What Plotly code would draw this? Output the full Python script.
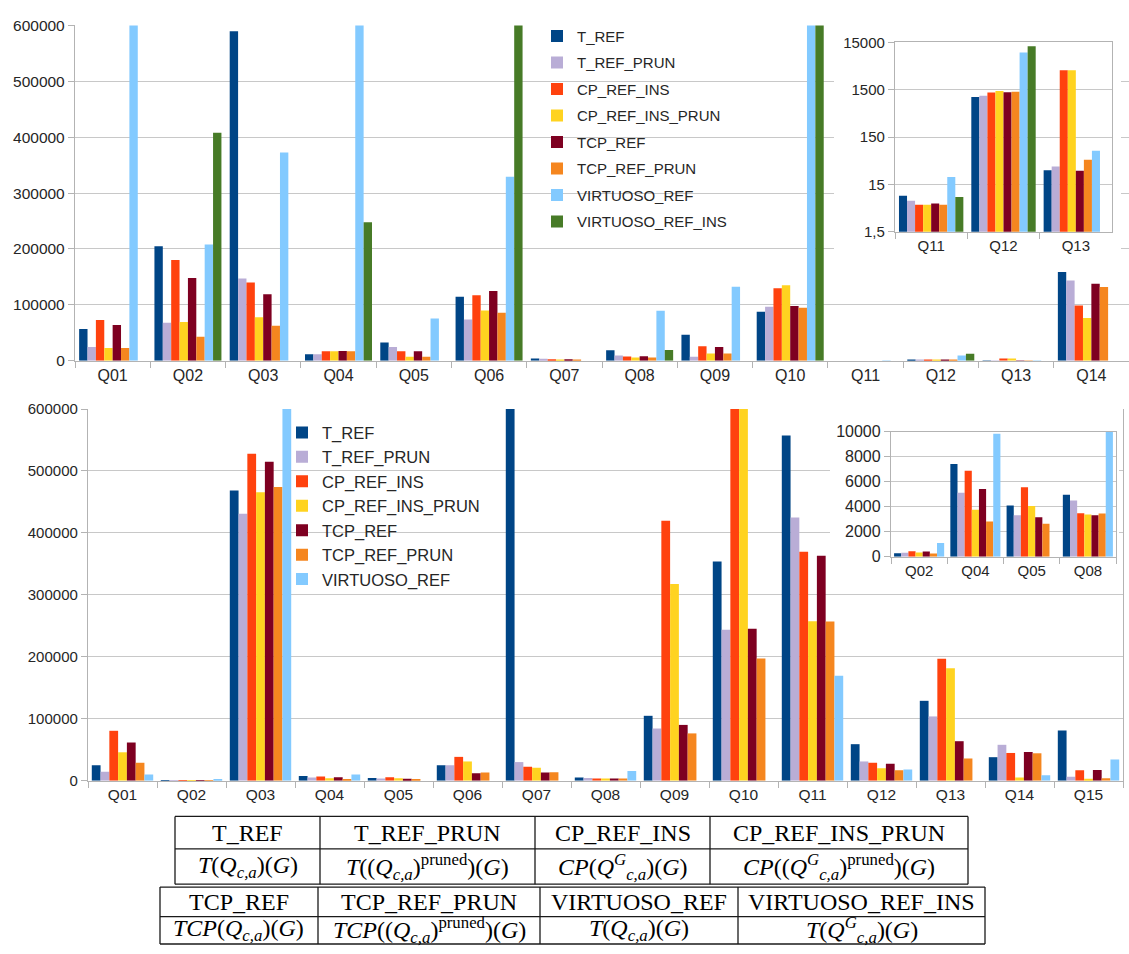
import math
import plotly.graph_objects as go

W, H = 1129, 954

# ---------------- data ----------------
series_names = ["T_REF", "T_REF_PRUN", "CP_REF_INS", "CP_REF_INS_PRUN",
                "TCP_REF", "TCP_REF_PRUN", "VIRTUOSO_REF", "VIRTUOSO_REF_INS"]

top_categories = ["Q01", "Q02", "Q03", "Q04", "Q05", "Q06", "Q07",
                  "Q08", "Q09", "Q10", "Q11", "Q12", "Q13", "Q14"]
top_inset_categories = ["Q11", "Q12", "Q13"]

top_t_ref = [57000, 205000, 589500, 11700, 32700, 114500, 4000, 18700, 46700, 87600, 8.6, 1050, 30, 159000]
top_t_ref_prun = [24500, 68000, 147000, 11700, 24500, 74000, 3500, 9300, 7000, 96400, 6.8, 1120, 36, 143700]
top_cp_ref_ins = [73000, 180500, 140000, 17000, 17000, 117400, 2500, 7600, 25700, 129700, 5.6, 1310, 3870, 98700]
top_cp_ref_ins_prun = [22800, 69500, 78000, 17000, 7000, 90000, 2000, 5800, 12800, 135000, 5.6, 1400, 3870, 76500]
top_tcp_ref = [64000, 148000, 119000, 17500, 17000, 125000, 2500, 8200, 24500, 98100, 5.9, 1330, 29, 137900]
top_tcp_ref_prun = [22800, 43000, 62500, 17000, 7000, 86000, 2000, 5800, 12800, 94600, 5.6, 1355, 50, 132000]
top_virtuoso_ref = [700000, 208000, 372700, 700000, 75400, 329400, None, 89500, 132600, 700000, 21.4, 9150, 77, None]
top_virtuoso_ref_ins = [None, 408000, None, 247700, None, 700000, None, 19300, None, 700000, 8.1, 12400, None, None]

top_tick_vals = [0, 100000, 200000, 300000, 400000, 500000, 600000]
top_inset_tick_vals = [1.5, 15, 150, 1500, 15000]
top_inset_tick_text = ["1,5", "15", "150", "1500", "15000"]

bottom_categories = ["Q01", "Q02", "Q03", "Q04", "Q05", "Q06", "Q07", "Q08",
                     "Q09", "Q10", "Q11", "Q12", "Q13", "Q14", "Q15"]
bottom_inset_categories = ["Q02", "Q04", "Q05", "Q08"]

bot_t_ref = [24700, 290, 468400, 7430, 4100, 24700, 700000, 4970, 104700, 353700, 557400, 58900, 128900, 37900, 81000]
bot_t_ref_prun = [14200, 320, 431000, 5130, 3330, 24700, 30000, 4500, 84200, 243700, 424700, 31000, 103700, 57900, 6300]
bot_cp_ref_ins = [80500, 450, 527900, 6880, 5560, 38400, 22600, 3490, 419500, 700000, 369500, 28900, 196800, 44700, 16800]
bot_cp_ref_ins_prun = [45800, 340, 465800, 3760, 4070, 31000, 21000, 3390, 317400, 700000, 257400, 20000, 181600, 5300, 3200]
bot_tcp_ref = [61600, 420, 514700, 5420, 3170, 12100, 13200, 3330, 90000, 245300, 363200, 27400, 63700, 46300, 17400]
bot_tcp_ref_prun = [28900, 260, 474200, 2830, 2650, 13200, 13700, 3470, 76300, 197400, 256800, 16800, 35800, 44200, 3700]
bot_virtuoso_ref = [10000, 1110, 700000, 9850, None, None, None, 15800, None, None, 169500, 17900, None, 8900, 34200]

bottom_inset_tick_vals = [0, 2000, 4000, 6000, 8000, 10000]

tbl1_headers = ["T_REF", "T_REF_PRUN", "CP_REF_INS", "CP_REF_INS_PRUN"]
tbl1_formulas = [
    "<i>T</i>(<i>Q</i><sub><i>c,a</i></sub>)(<i>G</i>)",
    "<i>T</i>((<i>Q</i><sub><i>c,a</i></sub>)<sup>pruned</sup>)(<i>G</i>)",
    "<i>CP</i>(<i>Q</i><sup><i>G</i></sup><sub><i>c,a</i></sub>)(<i>G</i>)",
    "<i>CP</i>((<i>Q</i><sup><i>G</i></sup><sub><i>c,a</i></sub>)<sup>pruned</sup>)(<i>G</i>)",
]
tbl2_headers = ["TCP_REF", "TCP_REF_PRUN", "VIRTUOSO_REF", "VIRTUOSO_REF_INS"]
tbl2_formulas = [
    "<i>TCP</i>(<i>Q</i><sub><i>c,a</i></sub>)(<i>G</i>)",
    "<i>TCP</i>((<i>Q</i><sub><i>c,a</i></sub>)<sup>pruned</sup>)(<i>G</i>)",
    "<i>T</i>(<i>Q</i><sub><i>c,a</i></sub>)(<i>G</i>)",
    "<i>T</i>(<i>Q</i><sup><i>G</i></sup><sub><i>c,a</i></sub>)(<i>G</i>)",
]

# ---------------- styles / layout geometry ----------------
series_colors = ["#004586", "#b9add6", "#ff420e", "#ffd320",
                 "#7e0021", "#f5861f", "#83caff", "#477b27"]
TXT = "#262626"
GRID = "#c8c8c8"
AXL = "#b3b3b3"

tbl1_cols_px = [175, 320, 535, 710, 968]
tbl1_rows_px = [823, 856, 892]
tbl2_cols_px = [160, 318, 540, 738, 985]
tbl2_rows_px = [895, 925, 953]


def xf(px):
    return px / W


def yf(py):
    return 1 - py / H


top_series = [top_t_ref, top_t_ref_prun, top_cp_ref_ins, top_cp_ref_ins_prun,
              top_tcp_ref, top_tcp_ref_prun, top_virtuoso_ref, top_virtuoso_ref_ins]
bot_series = [bot_t_ref, bot_t_ref_prun, bot_cp_ref_ins, bot_cp_ref_ins_prun,
              bot_tcp_ref, bot_tcp_ref_prun, bot_virtuoso_ref]

fig = go.Figure()

# top main chart
for i, vals in enumerate(top_series):
    fig.add_trace(go.Bar(x=top_categories, y=vals, name=series_names[i],
                         marker=dict(color=series_colors[i], line=dict(width=0)),
                         legend="legend", legendgroup="top%d" % i,
                         xaxis="x", yaxis="y"))
# blank white box behind the top inset (hides main gridlines there)
fig.add_trace(go.Scatter(x=[None], y=[None], xaxis="x2", yaxis="y2",
                         showlegend=False, hoverinfo="skip"))
# top inset (log scale)
for i, vals in enumerate(top_series):
    fig.add_trace(go.Bar(x=top_inset_categories,
                         y=[vals[top_categories.index(c)] for c in top_inset_categories],
                         name=series_names[i], showlegend=False,
                         marker=dict(color=series_colors[i], line=dict(width=0)),
                         xaxis="x3", yaxis="y3"))
# bottom main chart
for i, vals in enumerate(bot_series):
    fig.add_trace(go.Bar(x=bottom_categories, y=vals, name=series_names[i],
                         marker=dict(color=series_colors[i], line=dict(width=0)),
                         legend="legend2", legendgroup="bot%d" % i,
                         xaxis="x4", yaxis="y4"))
fig.add_trace(go.Scatter(x=[None], y=[None], xaxis="x5", yaxis="y5",
                         showlegend=False, hoverinfo="skip"))
# bottom inset
for i, vals in enumerate(bot_series):
    fig.add_trace(go.Bar(x=bottom_inset_categories,
                         y=[vals[bottom_categories.index(c)] for c in bottom_inset_categories],
                         name=series_names[i], showlegend=False,
                         marker=dict(color=series_colors[i], line=dict(width=0)),
                         xaxis="x6", yaxis="y6"))


def xcat(domain, anchor, size, mirror=False):
    return dict(domain=domain, anchor=anchor, type="category", showgrid=False,
                showline=True, linecolor=AXL, linewidth=1.3, mirror=mirror,
                ticks="outside", tickson="boundaries", ticklen=6, tickcolor=AXL,
                tickfont=dict(size=size, color=TXT), fixedrange=True)


def yval(domain, anchor, size, rng, tickvals, ticktext=None, log=False, mirror=False):
    d = dict(domain=domain, anchor=anchor, range=rng, tickmode="array",
             tickvals=tickvals, showgrid=True, gridcolor=GRID, gridwidth=1.2,
             showline=True, linecolor=AXL, linewidth=1.3, mirror=mirror,
             ticks="outside", ticklen=6, tickcolor=AXL, zeroline=False,
             tickfont=dict(size=size, color=TXT), fixedrange=True)
    if ticktext is not None:
        d["ticktext"] = ticktext
    else:
        d["tickformat"] = "d"
    if log:
        d["type"] = "log"
    return d


layout = dict(
    width=W, height=H,
    margin=dict(l=0, r=0, t=0, b=0),
    paper_bgcolor="white", plot_bgcolor="white",
    font=dict(family="Liberation Sans", color=TXT),
    barmode="group", bargap=0.11, bargroupgap=0,
    showlegend=True,
    xaxis=xcat([xf(75), xf(1129)], "y", 16),
    yaxis=yval([yf(358.5), yf(16.8)], "x", 15.5, [0, 600000], top_tick_vals),
    xaxis2=dict(domain=[xf(834), xf(1121)], anchor="y2", visible=False, range=[0, 1]),
    yaxis2=dict(domain=[yf(262), yf(20)], anchor="x2", visible=False, range=[0, 1]),
    xaxis3=xcat([xf(895), xf(1112)], "y3", 15, mirror=True),
    yaxis3=yval([yf(227), yf(34)], "x3", 15, [math.log10(1.5), math.log10(15000)],
                top_inset_tick_vals, top_inset_tick_text, log=True, mirror=True),
    xaxis4=xcat([xf(88), xf(1123)], "y4", 15.5),
    yaxis4=yval([yf(786.5), yf(407.7)], "x4", 15, [0, 600000], top_tick_vals, mirror=True),
    xaxis5=dict(domain=[xf(830), xf(1119)], anchor="y5", visible=False, range=[0, 1]),
    yaxis5=dict(domain=[yf(592), yf(411)], anchor="x5", visible=False, range=[0, 1]),
    xaxis6=xcat([xf(891), xf(1116)], "y6", 15, mirror=True),
    yaxis6=yval([yf(558.3), yf(431)], "x6", 16, [0, 10000], bottom_inset_tick_vals, mirror=True),
    legend=dict(x=xf(537), y=yf(11), xanchor="left", yanchor="top",
                bgcolor="rgba(0,0,0,0)", font=dict(size=15, color=TXT),
                tracegroupgap=4, itemwidth=30),
    legend2=dict(x=xf(282), y=yf(414), xanchor="left", yanchor="top",
                 bgcolor="rgba(0,0,0,0)", font=dict(size=16.5, color=TXT),
                 tracegroupgap=0, itemwidth=30),
)
fig.update_layout(**layout)

# ---------------- tables under the charts ----------------
shapes = []
annotations = []


def add_table(cols, rows, headers, formulas):
    for r in rows:
        shapes.append(dict(type="line", xref="paper", yref="paper",
                           x0=xf(cols[0]), x1=xf(cols[-1]), y0=yf(r), y1=yf(r),
                           line=dict(color="#1a1a1a", width=1.3)))
    for c in cols:
        shapes.append(dict(type="line", xref="paper", yref="paper",
                           x0=xf(c), x1=xf(c), y0=yf(rows[0]), y1=yf(rows[-1]),
                           line=dict(color="#1a1a1a", width=1.3)))
    for j in range(len(headers)):
        cx = xf((cols[j] + cols[j + 1]) / 2)
        for k, txt in enumerate([headers[j], formulas[j]]):
            cy = yf((rows[k] + rows[k + 1]) / 2)
            annotations.append(dict(xref="paper", yref="paper", x=cx, y=cy,
                                    text=txt, showarrow=False,
                                    xanchor="center", yanchor="middle",
                                    font=dict(family="Liberation Serif", size=24,
                                              color="black")))


add_table(tbl1_cols_px, tbl1_rows_px, tbl1_headers, tbl1_formulas)
add_table(tbl2_cols_px, tbl2_rows_px, tbl2_headers, tbl2_formulas)
fig.update_layout(shapes=shapes, annotations=annotations)

# remove the default 8px page margin so the figure sits at the window origin
fig.write_html("out.html", config={"displayModeBar": False},
               post_script="document.body.style.margin='0';")
